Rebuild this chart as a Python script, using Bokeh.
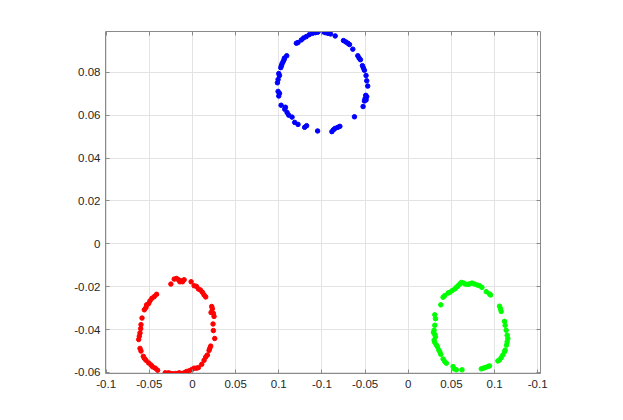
from bokeh.plotting import figure
from bokeh.models import LinearAxis, FixedTicker, Range1d
from bokeh.embed import file_html
from bokeh.resources import INLINE

# ---- data ----
blue_x = [-0.00308, -0.0020, 0.00046, 0.00154, 0.00277, 0.0040, 0.00615, -0.00431, -0.00585,
          -0.00723, -0.00846, -0.00954, -0.01108, -0.01185, 0.0100, 0.01108, 0.0120, 0.01277,
          0.01431, 0.01662, 0.01723, 0.01785, 0.01877, 0.01923, 0.01969, 0.02046, 0.02077,
          0.02123, 0.02031, 0.02077, 0.0200, 0.02046, 0.01969, 0.01908, 0.01508, 0.00831,
          0.00738, 0.00615, 0.00538, 0.00462, -0.0020, -0.00708, -0.0080, -0.01108, -0.01262,
          -0.01385, -0.01538, -0.01615, -0.01723, -0.01692, -0.01892, -0.0200, -0.01969,
          -0.02031, -0.02062, -0.02031, -0.01969, -0.0200, -0.01908, -0.01877, -0.01846,
          -0.0180, -0.01754, -0.01631, -0.01738]
blue_y = [0.09846, 0.09862, 0.09892, 0.09846, 0.09815, 0.09785, 0.09692, 0.09815, 0.09754,
          0.09662, 0.0960, 0.09508, 0.09385, 0.09354, 0.09477, 0.09415, 0.09354, 0.09292,
          0.09077, 0.08769, 0.08662, 0.08585, 0.08308, 0.0820, 0.08092, 0.07846, 0.0760,
          0.07354, 0.06923, 0.06862, 0.06769, 0.06708, 0.06662, 0.0640, 0.05923, 0.05477,
          0.05431, 0.05385, 0.05323, 0.05231, 0.05262, 0.05508, 0.05431, 0.05569, 0.05662,
          0.05908, 0.0600, 0.06123, 0.06277, 0.06369, 0.06462, 0.06892, 0.07015,
          0.07108, 0.07508, 0.07662, 0.07846, 0.07938, 0.08215, 0.08308, 0.0840,
          0.08492, 0.08585, 0.08769, 0.08662]

red_x = [-0.0700, -0.06846, -0.06738, -0.06646, -0.06585, -0.06523, -0.06462, -0.06385,
         -0.06062, -0.05923, -0.05815, -0.05723, -0.05631, -0.05538, -0.05462, -0.05385,
         -0.05108, -0.05077, -0.05138, -0.05031, -0.0500, -0.05046, -0.05031, -0.04969,
         -0.05154, -0.0520, -0.05231, -0.05308, -0.05385, -0.05462, -0.05569, -0.05723,
         -0.05815, -0.05923, -0.06031, -0.06154, -0.06277, -0.06385, -0.06492, -0.06615,
         -0.06769, -0.06892, -0.0700, -0.07108, -0.07262, -0.07615, -0.07723, -0.07846,
         -0.07923, -0.08031, -0.08154, -0.08231, -0.08277, -0.08385, -0.08431, -0.08492,
         -0.08462, -0.08431, -0.0840, -0.08385, -0.08338, -0.08231, -0.08154, -0.08123,
         -0.08031, -0.07969, -0.07877, -0.07769, -0.07662]
red_y = [-0.01877, -0.01646, -0.01615, -0.01677, -0.01769, -0.01723, -0.01769, -0.01677,
         -0.01769, -0.01954, -0.01985, -0.02108, -0.02154, -0.02262, -0.02385, -0.02477,
         -0.02923, -0.03031, -0.0320, -0.03246, -0.03385, -0.03738, -0.04046, -0.04415,
         -0.04769, -0.04877, -0.04969, -0.05185, -0.05277, -0.05431, -0.05615, -0.05769,
         -0.0580, -0.0580, -0.05862, -0.05923, -0.05954, -0.06015, -0.06046, -0.06015,
         -0.06046, -0.06062, -0.06046, -0.06015, -0.06015, -0.05892, -0.0580, -0.05738,
         -0.05646, -0.05554, -0.05431, -0.05338, -0.05246, -0.0500, -0.04877, -0.04462,
         -0.04308, -0.04154, -0.03954, -0.03769, -0.03462, -0.03077, -0.02969, -0.02846,
         -0.02785, -0.02662, -0.02538, -0.02462, -0.02354]

green_x = [0.06154, 0.06231, 0.06308, 0.06385, 0.06462, 0.06569, 0.06646, 0.06769, 0.06846,
           0.06954, 0.07077, 0.0720, 0.07308, 0.07415, 0.07615, 0.07769, 0.07815, 0.06031,
           0.05923, 0.05846, 0.05692, 0.05615, 0.05508, 0.05231, 0.05262, 0.05231, 0.0520,
           0.05169, 0.05231, 0.05262, 0.0520, 0.05231, 0.05308, 0.05354, 0.05415, 0.05462,
           0.05508, 0.05615, 0.05692, 0.05769, 0.06077, 0.06123, 0.06231, 0.06492, 0.07385,
           0.07477, 0.07569, 0.07692, 0.07769, 0.08231, 0.08277, 0.08308, 0.08462, 0.08492,
           0.08538, 0.08585, 0.08615, 0.08585, 0.08554, 0.08492, 0.08462, 0.08385, 0.08308,
           0.08231, 0.08154]
green_y = [-0.02108, -0.02031, -0.01954, -0.01877, -0.0180, -0.01831, -0.01877, -0.01892,
           -0.01862, -0.01831, -0.01877, -0.01923, -0.01954, -0.02031, -0.02231, -0.02338,
           -0.02385, -0.02185, -0.02262, -0.02292, -0.02415, -0.02492, -0.02846, -0.03308,
           -0.03492, -0.0380, -0.04031, -0.04138, -0.04231, -0.04338, -0.04492, -0.0460,
           -0.04723, -0.0480, -0.04954, -0.05031, -0.05154, -0.05369, -0.05492, -0.05569,
           -0.05723, -0.05831, -0.05877, -0.05877, -0.05831, -0.0580, -0.05769, -0.05723,
           -0.05692, -0.02908, -0.03031, -0.03154, -0.03615, -0.0380, -0.04031, -0.04262,
           -0.04415, -0.04569, -0.04723, -0.04954, -0.05031, -0.05185, -0.05308, -0.05415,
           -0.05462]

x_ticks = [-0.1, -0.08, -0.06, -0.04, -0.02, 0.0, 0.02, 0.04, 0.06, 0.08, 0.1]
x_tick_labels = ["-0.1", "-0.05", "0", "0.05", "0.1", "-0.1", "-0.05", "0", "0.05", "0.1", "-0.1"]
y_ticks = [-0.06, -0.04, -0.02, 0.0, 0.02, 0.04, 0.06, 0.08]
y_tick_labels = ["-0.06", "-0.04", "-0.02", "0", "0.02", "0.04", "0.06", "0.08"]

FONT = "Liberation Sans"
AXIS_COLOR = "#8a8a8a"
LABEL_COLOR = "#262626"

p = figure(frame_width=435, frame_height=342,
           min_border_left=105, min_border_right=60, min_border_top=31, min_border_bottom=39,
           x_range=Range1d(-0.1003, 0.1013), y_range=Range1d(-0.06047, 0.0990),
           output_backend="svg", toolbar_location=None, x_axis_location=None,
           y_axis_location=None)
p.outline_line_color = None
p.background_fill_color = "white"
p.border_fill_color = "white"

xt = FixedTicker(ticks=x_ticks)
yt = FixedTicker(ticks=y_ticks)

def style_axis(ax, show_labels):
    ax.axis_line_color = AXIS_COLOR
    ax.axis_line_width = 1
    ax.major_tick_line_color = AXIS_COLOR
    ax.major_tick_in = 4
    ax.major_tick_out = 0
    ax.minor_tick_line_color = None
    ax.major_label_text_font = FONT
    ax.major_label_text_font_size = "11.5px" if show_labels else "0px"
    ax.major_label_text_color = LABEL_COLOR if show_labels else None

bottom = LinearAxis(ticker=xt, major_label_overrides={t: l for t, l in zip(x_ticks, x_tick_labels)})
style_axis(bottom, True)
bottom.major_label_standoff = 6
top = LinearAxis(ticker=xt)
style_axis(top, False)
left = LinearAxis(ticker=yt, major_label_overrides={t: l for t, l in zip(y_ticks, y_tick_labels)})
style_axis(left, True)
left.major_label_standoff = 5
right = LinearAxis(ticker=yt)
style_axis(right, False)

p.add_layout(bottom, "below")
p.add_layout(top, "above")
p.add_layout(left, "left")
p.add_layout(right, "right")

p.xgrid.ticker = xt
p.ygrid.ticker = yt
for g in (p.xgrid, p.ygrid):
    g.grid_line_color = "#e3e3e3"
    g.grid_line_width = 1

for xs, ys, c in ((blue_x, blue_y, "#0000ff"), (red_x, red_y, "#ff0000"), (green_x, green_y, "#00ff00")):
    p.scatter(xs, ys, size=4.5, color=c, line_color=c)

open("out.html", "w").write(file_html(p, INLINE))
